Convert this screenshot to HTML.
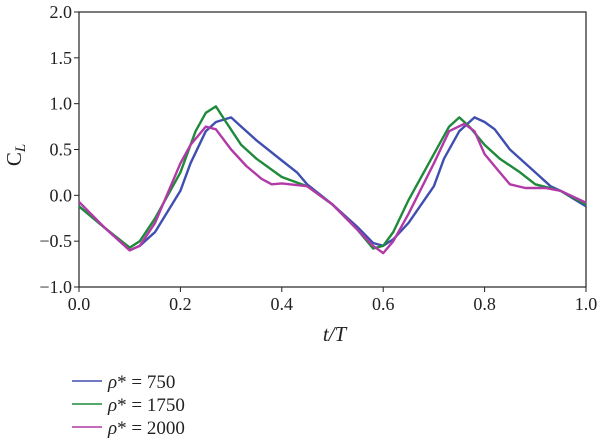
<!DOCTYPE html>
<html><head><meta charset="utf-8"><style>
body{margin:0;background:#fff;}
svg{display:block;font-family:"Liberation Serif",serif;}
</style></head><body>
<svg id="chart" width="600" height="442"></svg>
<script>
const xTicks=[0,0.2,0.4,0.6,0.8,1.0];
const xTickLabels=["0.0","0.2","0.4","0.6","0.8","1.0"];
const yTicks=[-1,-0.5,0,0.5,1,1.5,2];
const yTickLabels=["\u22121.0","\u22120.5","0.0","0.5","1.0","1.5","2.0"];
const tBlue=[0,0.05,0.1,0.12,0.15,0.2,0.22,0.25,0.27,0.3,0.32,0.35,0.4,0.43,0.45,0.5,0.55,0.58,0.6,0.62,0.65,0.7,0.72,0.75,0.78,0.8,0.82,0.85,0.9,0.93,0.95,1.0];
const vBlue=[-0.12,-0.35,-0.6,-0.55,-0.4,0.05,0.35,0.7,0.8,0.85,0.75,0.6,0.38,0.25,0.12,-0.1,-0.35,-0.52,-0.55,-0.48,-0.3,0.1,0.4,0.7,0.85,0.8,0.72,0.5,0.25,0.1,0.05,-0.12];
const tGreen=[0,0.05,0.1,0.12,0.15,0.2,0.23,0.25,0.27,0.29,0.32,0.35,0.4,0.45,0.5,0.55,0.58,0.6,0.62,0.65,0.7,0.73,0.75,0.77,0.8,0.83,0.87,0.9,0.95,1.0];
const vGreen=[-0.12,-0.35,-0.57,-0.5,-0.25,0.25,0.7,0.9,0.97,0.8,0.55,0.4,0.2,0.1,-0.1,-0.38,-0.58,-0.55,-0.4,-0.05,0.45,0.75,0.85,0.75,0.55,0.4,0.25,0.12,0.05,-0.1];
const tMag=[0,0.05,0.1,0.12,0.15,0.2,0.22,0.25,0.27,0.3,0.33,0.36,0.38,0.4,0.45,0.5,0.55,0.58,0.6,0.62,0.65,0.7,0.73,0.76,0.78,0.8,0.83,0.85,0.88,0.92,0.95,1.0];
const vMag=[-0.07,-0.35,-0.6,-0.55,-0.3,0.35,0.55,0.75,0.72,0.5,0.32,0.18,0.12,0.13,0.1,-0.1,-0.38,-0.55,-0.63,-0.5,-0.2,0.35,0.7,0.78,0.7,0.45,0.25,0.12,0.08,0.08,0.05,-0.08];
const seriesNames=["\u03c1* = 750","\u03c1* = 1750","\u03c1* = 2000"];
const colors=["#3f4fb0","#1f8a3a","#b23aa8"];
const NS="http://www.w3.org/2000/svg";
const svg=document.getElementById('chart');
const L=79,R=586,T=12,B=287;
const xs=t=>L+(t-0)/(1-0)*(R-L);
const ys=v=>B-(v+1)/3*(B-T);
function mk(tag,attrs,parent){const e=document.createElementNS(NS,tag);for(const k in attrs)e.setAttribute(k,attrs[k]);(parent||svg).appendChild(e);return e;}
const frame=mk('rect',{x:L,y:T,width:R-L,height:B-T,fill:'none',stroke:'#222','stroke-width':1.2});


xTicks.forEach((t,i)=>{
  const tk=mk('line',{x1:xs(t),x2:xs(t),y1:B,y2:B+5,stroke:'#222'});
  
  
  const lb=mk('text',{x:xs(t),y:B+23,'text-anchor':'middle','font-size':18,fill:'#222'});
  lb.textContent=xTickLabels[i];
  
  
});
yTicks.forEach((v,i)=>{
  const tk=mk('line',{x1:L-5,x2:L,y1:ys(v),y2:ys(v),stroke:'#222'});
  
  
  const lb=mk('text',{x:L-7,y:ys(v)+6,'text-anchor':'end','font-size':18,fill:'#222'});
  lb.textContent=yTickLabels[i];
  
  
});
const xl=mk('text',{x:(L+R)/2+2,y:341,'text-anchor':'middle','font-size':21,'font-style':'italic',fill:'#222'});
xl.textContent='t/T';


const yl=mk('text',{x:0,y:0,'text-anchor':'middle','font-size':21,fill:'#222',transform:'translate(21,155) rotate(-90)'});
yl.innerHTML='C<tspan font-style="italic" font-size="15" dy="4">L</tspan>';


const data=[[tBlue,vBlue],[tGreen,vGreen],[tMag,vMag]];
data.forEach((d,si)=>{
  const pts=d[0].map((t,i)=>xs(t).toFixed(1)+','+ys(d[1][i]).toFixed(1)).join(' ');
  const pl=mk('polyline',{points:pts,fill:'none',stroke:colors[si],'stroke-width':2.4,'stroke-linejoin':'round'});
  
  
  const ly=381+si*23;
  const ll=mk('line',{x1:72,x2:102,y1:ly,y2:ly,stroke:colors[si],'stroke-width':1.5});
  
  
  const lt=mk('text',{x:108,y:ly+7,'font-size':19,fill:'#222'});
  lt.innerHTML='<tspan font-style="italic">\u03c1</tspan>'+seriesNames[si].slice(1);
  
  
});
</script>
</body></html>
